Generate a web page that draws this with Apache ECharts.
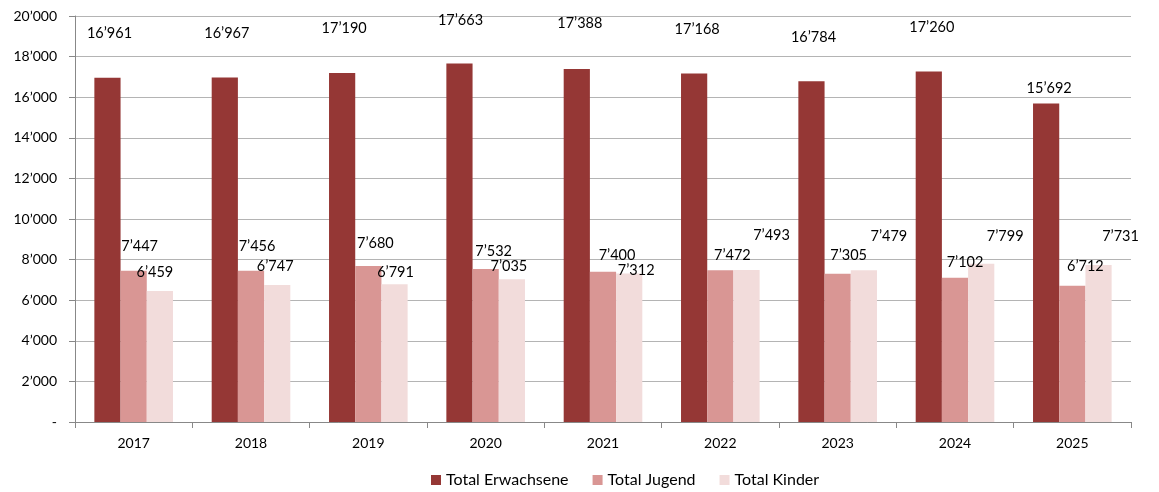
<!DOCTYPE html>
<html><head><meta charset="utf-8">
<script src="https://cdn.jsdelivr.net/npm/echarts@6/dist/echarts.min.js"></script>
<style>html,body{margin:0;padding:0;background:#fff}#c{width:1159px;height:492px}</style>
</head><body><div id="c"></div>
<script>
var years = ['2017','2018','2019','2020','2021','2022','2023','2024','2025'];
var erwachsene = [16961,16967,17190,17663,17388,17168,16784,17260,15692];
var jugend = [7447,7456,7680,7532,7400,7472,7305,7102,6712];
var kinder = [6459,6747,6791,7035,7312,7493,7479,7799,7731];
var seriesNames = ['Total Erwachsene','Total Jugend','Total Kinder'];

// label placement (styling only)
var offE = [[2,-37],[2,-37],[2,-37],[1,-36],[3,-38],[3,-37],[2,-36],[3,-37],[3,-8]];
var offJ = [[6,-17],[6,-17],[7,-15],[8,-10],[14,-9],[12,-7],[11,-11],[10,-8],[13,-12]];
var offK = [[-5,-11],[-2,-11],[1,-4],[-3,-5],[7,4],[25,-27],[25,-26],[24,-20],[22,-21]];

function fmt(v){
  if (v === 0) return '-';
  var s = String(Math.round(v));
  return s.replace(/\B(?=(\d{3})+(?!\d))/g, '\u2019');
}
var FONT = 'Lato, "Open Sans", sans-serif';
function mk(vals, offs){
  return vals.map(function(v,i){
    return {value:v, label:{offset:offs[i]}};
  });
}
var colors = ['#953735','#D99694','#F2DCDB'];
var chart = echarts.init(document.getElementById('c'));
function ser(name, vals, offs, color){
  return {
    name:name, type:'bar', data:mk(vals,offs), barGap:'0%', barCategoryGap:'33%',
    itemStyle:{color:color},
    label:{show:true, position:'top', distance:0, color:'#000', fontFamily:FONT, fontSize:14.5,
      formatter:function(p){return fmt(p.value);}}
  };
}
chart.setOption({
  animation:false,
  color:colors,
  grid:{left:75, right:28, top:16, bottom:70},
  legend:{top:467, left:426, itemWidth:10, itemHeight:10, itemGap:24, icon:'rect',
    textStyle:{fontFamily:FONT, fontSize:16, color:'#000'}, data:seriesNames},
  xAxis:{type:'category', data:years,
    axisLine:{lineStyle:{color:'#888'}},
    axisTick:{show:true, length:6, lineStyle:{color:'#888'}},
    axisLabel:{fontFamily:FONT, fontSize:14, color:'#000', margin:14}},
  yAxis:{type:'value', min:0, max:20000, interval:2000,
    axisLine:{show:true, lineStyle:{color:'#888'}},
    axisTick:{show:true, length:6, lineStyle:{color:'#888'}},
    splitLine:{lineStyle:{color:'#B4B4B4'}},
    axisLabel:{fontFamily:FONT, fontSize:14, color:'#000', margin:18, formatter:fmt}},
  series:[
    ser(seriesNames[0], erwachsene, offE, colors[0]),
    ser(seriesNames[1], jugend, offJ, colors[1]),
    ser(seriesNames[2], kinder, offK, colors[2])
  ]
});
</script></body></html>
